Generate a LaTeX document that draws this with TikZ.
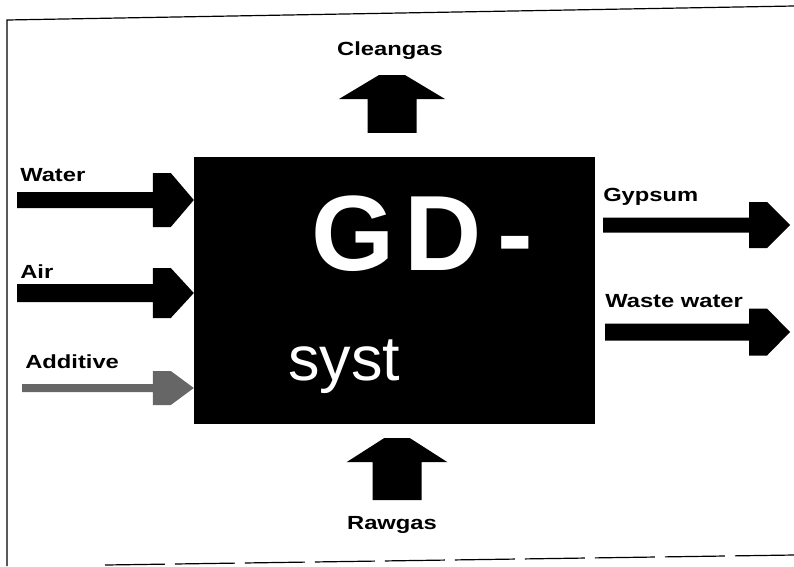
\documentclass[tikz,border=0pt]{standalone}
\usepackage{fontspec}
\setmainfont{Liberation Sans}
\usetikzlibrary{calc}

\tikzset{
  lbl/.style={font=\fontsize{19}{19}\selectfont\bfseries,inner sep=0pt,xscale=1.25},
  flow/.style={fill=black},
  faint/.style={fill=black!60},
}

% block arrow to the right, tip at #3
\newcommand\flowright[5][flow]{%
  \fill[#1] let \p1=(#2), \p2=(#3) in
    (\x1,\y2+#4) -- (\x2-41pt,\y2+#4) -- (\x2-41pt,\y2+#5) -- (\x2-23pt,\y2+#5)
    -- (\p2) -- (\x2-23pt,\y2-#5) -- (\x2-41pt,\y2-#5) -- (\x2-41pt,\y2-#4)
    -- (\x1,\y2-#4) -- cycle;}
% block arrow upwards, tip at #3
\newcommand\flowup[5][flow]{%
  \fill[#1] let \p1=(#2), \p2=(#3) in
    (\x2-#4,\y1) -- (\x2-#4,\y2-24pt) -- (\x2-#5,\y2-24pt) -- (\x2-13pt,\y2)
    -- (\x2+13pt,\y2) -- (\x2+#5,\y2-24pt) -- (\x2+#4,\y2-24pt) -- (\x2+#4,\y1) -- cycle;}

\begin{document}
\begin{tikzpicture}[x=1pt,y=-1pt]
\useasboundingbox (0,0) rectangle (794,566);
% scanned frame
\draw[line width=1.2pt] (7,566) -- (7,20) -- (794,6);
\draw[line width=1.2pt,dash pattern=on 60pt off 10pt] (105,565) -- (794,555);

% the unit
\node[fill=black,minimum width=401pt,minimum height=267pt,inner sep=0pt] (fgd) at (394.5,290.5) {};
\node[text=white,font=\fontsize{107}{107}\selectfont\bfseries,inner sep=0pt,anchor=base west] (fgd-name) at (311,270) {G\kern10pt D\kern16pt-};
\node[text=white,font=\fontsize{63}{63}\selectfont,inner sep=0pt,anchor=base west] (fgd-sys) at (288,380) {syst};

% inputs
\coordinate (water) at (17,200);
\coordinate (air) at (17,293);
\coordinate (additive) at (22,388);
\flowright{water}{water -| fgd.west}{8pt}{27pt}
\flowright{air}{air -| fgd.west}{9pt}{25pt}
\flowright[faint]{additive}{additive -| fgd.west}{4pt}{17pt}
\node[lbl,anchor=base west] (water-lbl) at (20,181) {Water};
\node[lbl,anchor=base west] (air-lbl) at (20,278) {Air};
\node[lbl,anchor=base west] (additive-lbl) at (25,368) {Additive};

% outputs
\coordinate (gypsum) at (790,225);
\coordinate (waste) at (790,332);
\flowright{[xshift=8pt]fgd.east |- gypsum}{gypsum}{7.5pt}{23pt}
\flowright{[xshift=10pt]fgd.east |- waste}{waste}{8.5pt}{23.5pt}
\node[lbl,anchor=base west] (gypsum-lbl) at (603,201) {Gypsum};
\node[lbl,anchor=base west] (waste-lbl) at (605,307) {Waste water};

% gas in and out
\coordinate (clean) at (392,75);
\coordinate (raw) at (397,500);
\flowup{[yshift=24pt]fgd.north -| clean}{clean}{24.5pt}{53pt}
\flowup{raw}{[yshift=-14pt]fgd.south -| raw}{24.5pt}{50.5pt}
\node[lbl,anchor=base] (clean-lbl) at (390,55) {Cleangas};
\node[lbl,anchor=base] (raw-lbl) at (392,529) {Rawgas};
\end{tikzpicture}
\end{document}
